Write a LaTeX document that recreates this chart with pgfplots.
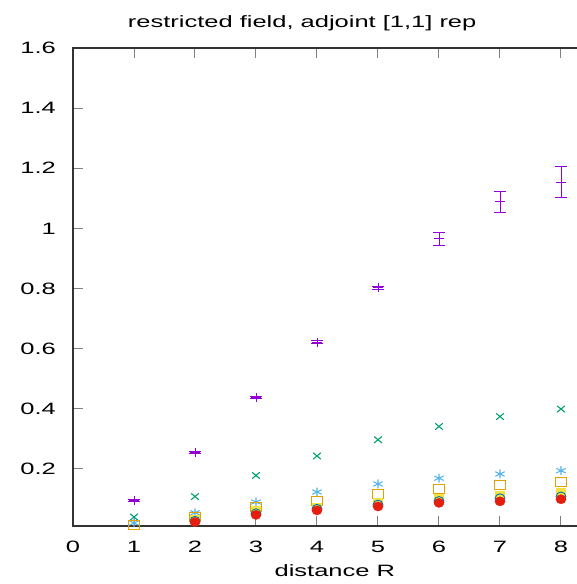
\documentclass[border=0pt]{standalone}
\usepackage{fontspec}
\setmainfont{Liberation Sans}[FakeStretch=1.55]
\usepackage{pgfplots}
\pgfplotsset{compat=1.18}
\definecolor{cpur}{RGB}{148,0,211}
\definecolor{cgrn}{HTML}{009E73}
\definecolor{csky}{HTML}{56B4E9}
\definecolor{corg}{HTML}{E69F00}
\definecolor{cyel}{HTML}{F0E442}
\definecolor{cblu}{HTML}{0072B2}
\definecolor{cred}{HTML}{E51E10}
\begin{document}
\begin{tikzpicture}
\begin{axis}[
  at={(0,0)}, anchor=south west,
  scale only axis, width=518.5bp, height=478bp,
  xmin=0, xmax=8.5, ymin=0.01, ymax=1.6,
  xtick={0,1,...,8}, ytick={0.2,0.4,0.6,0.8,1,1.2,1.4,1.6},
  yticklabels={0.2,0.4,0.6,0.8,1,1.2,1.4,1.6},
  xtick pos=both, ytick pos=both,
  tick align=inside, major tick length=10bp,
  tick style={gray, line width=1pt},
  axis line style={black!80, line width=1.3pt},
  font=\fontsize{16.5}{19}\selectfont,
  /pgf/number format/assume math mode=true,
  title={restricted field, adjoint [1,1] rep},
  title style={at={(rel axis cs:0.442,1)}, anchor=base, yshift=15bp, inner sep=0pt},
  xlabel={distance R},
  xlabel style={at={(rel axis cs:0.505,0)}, anchor=base, yshift=-50bp, inner sep=0pt},
  xticklabel style={anchor=base, yshift=-26bp, inner sep=0pt},
  yticklabel style={anchor=east, xshift=-17bp, inner sep=0pt},
  clip=false,
]
% green x
\addplot[only marks, mark=x, mark size=4.5bp, draw=cgrn, line width=1.1pt,
  mark options={xscale=1.2, draw=cgrn}]
  table[x=x, y=y] {
x y
1 0.040
2 0.108
3 0.178
4 0.243
5 0.297
6 0.341
7 0.374
8 0.399
};
% sky *
\addplot[only marks, mark=asterisk, mark size=4.5bp, draw=csky, line width=1.1pt,
  mark options={xscale=1.2, draw=csky}]
  table[x=x, y=y] {
x y
1 0.020
2 0.054
3 0.090
4 0.123
5 0.150
6 0.169
7 0.183
8 0.194
};
% orange open square
\addplot[only marks, mark=square, mark size=4.5bp, draw=corg, line width=0.9pt,
  mark options={xscale=1.15, draw=corg}]
  table[x=x, y=y] {
x y
1 0.012
2 0.041
3 0.073
4 0.093
5 0.117
6 0.133
7 0.147
8 0.155
};
% yellow filled square
\addplot[only marks, mark=square*, mark size=4bp, draw=cyel, fill=cyel,
  mark options={xscale=1.15, draw=cyel, fill=cyel}]
  table[x=x, y=y] {
x y
2 0.032
3 0.061
4 0.074
5 0.090
6 0.104
7 0.113
8 0.121
};
% blue open circle
\addplot[only marks, mark=o, mark size=4.5bp, draw=cblu, line width=0.9pt,
  mark options={xscale=1.1, draw=cblu}]
  table[x=x, y=y] {
x y
2 0.027
3 0.052
4 0.067
5 0.081
6 0.093
7 0.102
8 0.108
};
% red filled circle
\addplot[only marks, mark=*, mark size=4.6bp, draw=cred, fill=cred,
  mark options={xscale=1.1, draw=cred, fill=cred}]
  table[x=x, y=y] {
x y
2 0.023
3 0.047
4 0.062
5 0.075
6 0.087
7 0.092
8 0.099
};
% purple +
\addplot[only marks, mark=+, mark size=4.5bp, color=cpur, line width=0.9pt,
  mark options={xscale=1.15, color=cpur},
  error bars/.cd, y dir=both, y explicit,
  error bar style={color=cpur, line width=0.8pt},
  error mark options={rotate=90, mark size=6bp, color=cpur, line width=0.8pt}]
  coordinates {
(1,0.096) +- (0,0.003)
(2,0.254) +- (0,0.003)
(3,0.437) +- (0,0.003)
(4,0.622) +- (0,0.004)
(5,0.803) +- (0,0.005)
(6,0.965) +- (0,0.020)
(7,1.088) +- (0,0.034)
(8,1.154) +- (0,0.052)
};
\end{axis}
\pgfresetboundingbox
\useasboundingbox (-73bp,-58bp) rectangle (504bp,526bp);
\end{tikzpicture}
\end{document}
